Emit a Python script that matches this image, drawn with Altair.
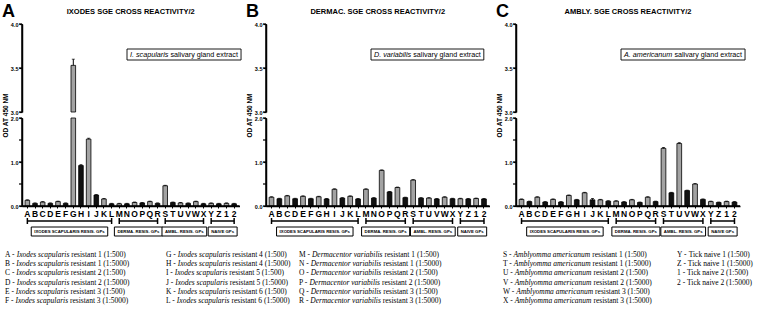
import altair as alt
import pandas as pd

# ---------------- data ----------------
categories = list("ABCDEFGHIJKLMNOPQRSTUVWX") + ["Y", "Z", "1", "2"]
dilutions = ["1:500", "1:5000"] * 14

ixodes_od = [0.13, 0.06, 0.09, 0.06, 0.10, 0.06, 3.53, 0.92, 1.52, 0.25, 0.16, 0.05,
             0.05, 0.05, 0.08, 0.07, 0.10, 0.06, 0.46, 0.08, 0.07, 0.06, 0.10, 0.05,
             0.06, 0.05, 0.06, 0.05]
ixodes_err = [0.01, 0.01, 0.01, 0.01, 0.01, 0.01, 0.07, 0.02, 0.02, 0.01, 0.01, 0.01,
              0.01, 0.01, 0.01, 0.01, 0.01, 0.01, 0.01, 0.01, 0.01, 0.01, 0.01, 0.01,
              0.01, 0.01, 0.01, 0.01]
dermac_od = [0.20, 0.165, 0.23, 0.165, 0.22, 0.165, 0.21, 0.16, 0.38, 0.18, 0.22, 0.16,
             0.38, 0.18, 0.81, 0.32, 0.42, 0.19, 0.59, 0.18, 0.18, 0.16, 0.20, 0.165,
             0.165, 0.16, 0.17, 0.16]
dermac_err = [0.01] * 28
ambly_od = [0.15, 0.10, 0.20, 0.09, 0.15, 0.09, 0.24, 0.14, 0.30, 0.14, 0.14, 0.11,
            0.11, 0.09, 0.14, 0.08, 0.20, 0.10, 1.31, 0.30, 1.42, 0.35, 0.50, 0.15,
            0.10, 0.08, 0.10, 0.09]
ambly_err = [0.01, 0.01, 0.01, 0.01, 0.01, 0.01, 0.01, 0.01, 0.01, 0.03, 0.01, 0.01,
             0.01, 0.01, 0.01, 0.01, 0.01, 0.01, 0.02, 0.01, 0.02, 0.01, 0.01, 0.01,
             0.01, 0.01, 0.01, 0.01]

panel_letters = ["A", "B", "C"]
panel_titles = ["IXODES SGE CROSS REACTIVITY/2", "DERMAC. SGE CROSS REACTIVITY/2",
                "AMBLY. SGE CROSS REACTIVITY/2"]
extract_italic = ["I. scapularis", "D. variabilis", "A. americanum"]
extract_rest = "salivary gland extract"

group_labels = ["IXODES SCAPULARIS RESIS. GPs", "DERMA. RESIS. GPs", "AMBL. RESIS. GPs", "NAIVE GPs"]
group_first = ["A", "M", "S", "Y"]
group_last = ["L", "R", "X", "2"]

top_ticks = [3.0, 3.5, 4.0]
bottom_ticks = [0.0, 0.5, 1.0, 1.5, 2.0]

legend_species = (["Ixodes scapularis"] * 12 + ["Dermacentor variabilis"] * 6 +
                  ["Amblyomma americanum"] * 6 + [""] * 4)
legend_suffix = ["resistant 1 (1:500)", "resistant 1 (1:5000)", "resistant 2 (1:500)",
                 "resistant 2 (1:5000)", "resistant 3 (1:500)", "resistant 3 (1:5000)",
                 "resistant 4 (1:500)", "resistant 4 (1:5000)", "resistant 5 (1:500)",
                 "resistant 5 (1:5000)", "resistant 6 (1:500)", "resistant 6 (1:5000)",
                 "resistant 1 (1:500)", "resistant 1 (1:5000)", "resistant 2 (1:500)",
                 "resistant 2 (1:5000)", "resistant 3 (1:500)", "resistant 3 (1:5000)",
                 "resistant 1 (1:500)", "resistant 1 (1:5000)", "resistant 2 (1:500)",
                 "resistant 2 (1:5000)", "resistant 3 (1:500)", "resistant 3 (1:5000)",
                 "Tick naive 1 (1:500)", "Tick naive 1 (1:5000)", "Tick naive 2 (1:500)",
                 "Tick naive 2 (1:5000)"]

# ---------------- style / layout ----------------
SANS = "Liberation Sans"
SERIF = "Liberation Serif"
PAT = "#a3a3a3"
BLK = "#111111"
PANEL_W = [217.5, 223.5, 224]
SEG_H = 88
PAD_IN, PAD_OUT = 0.4, 0.4
LEG_COL_X = [-17, 144, 277, 481, 655]
LEG_Y0, LEG_DY = 49, 9.2   # below bottom plot
LEG_FS = 7.5

TIMES = {' ': .25, '-': .333, 'A': .722, 'B': .667, 'C': .667, 'D': .722, 'E': .611, 'F': .556,
         'G': .722, 'H': .722, 'I': .333, 'J': .389, 'K': .722, 'L': .611, 'M': .889, 'N': .722,
         'O': .722, 'P': .556, 'Q': .722, 'R': .667, 'S': .556, 'T': .611, 'U': .722, 'V': .722,
         'W': .944, 'X': .722, 'Y': .722, 'Z': .611, '1': .5, '2': .5}
TIMES_I = {' ': .25, 'I': .333, 'D': .722, 'A': .611, 'a': .5, 'b': .5, 'c': .444, 'd': .5,
           'e': .444, 'i': .278, 'l': .278, 'm': .722, 'n': .5, 'o': .5, 'p': .5, 'r': .389,
           's': .389, 't': .278, 'u': .5, 'v': .444, 'x': .444, 'y': .444}
ARIAL = {' ': .278, '.': .278, 'I': .278, 'D': .722, 'A': .667, 's': .5, 'c': .5, 'a': .556,
         'p': .556, 'u': .556, 'l': .222, 'r': .333, 'i': .222, 'v': .5, 'y': .5, 'g': .556,
         'n': .556, 'd': .556, 'e': .556, 'x': .5, 't': .278, 'b': .556, 'm': .833}
ARIAL_B = {' ': .278, '.': .278, 'I': .278, 'X': .667, 'O': .778, 'D': .722, 'E': .667,
           'S': .667, 'C': .722, 'A': .722, 'P': .667, 'U': .722, 'L': .611, 'R': .722,
           'G': .778, 'M': .833, 'B': .722, 'N': .722, 'V': .667, 's': .556}


def tw(s, table, size):
    return sum(table.get(c, 0.55) for c in s) * size


one = pd.DataFrame({"k": [0]})


def legend_layers():
    cols = [0] * 6 + [1] * 6 + [2] * 6 + [3] * 6 + [4] * 4
    rows = list(range(6)) * 4 + list(range(4))
    recs = []
    for k, cat in enumerate(categories):
        x0 = LEG_COL_X[cols[k]]
        pre = f"{cat} - "
        w_pre = tw(pre, TIMES, LEG_FS)
        sp = legend_species[k]
        w_sp = tw(sp + " ", TIMES_I, LEG_FS) if sp else 0
        recs.append({"ypx": SEG_H + LEG_Y0 + rows[k] * LEG_DY, "pre": pre.strip(), "sp": sp,
                     "suf": legend_suffix[k], "x_pre": x0, "x_sp": x0 + w_pre,
                     "x_suf": x0 + w_pre + w_sp})
    ldf = pd.DataFrame(recs)
    lb = alt.Chart(ldf)
    ly = alt.Y("ypx:Q", scale=None)
    kw = dict(font=SERIF, fontSize=LEG_FS, align="left", baseline="middle", color="black")
    l1 = lb.mark_text(**kw).encode(x=alt.X("x_pre:Q", scale=None), y=ly, text="pre:N")
    l2 = lb.transform_filter("datum.sp != ''").mark_text(fontStyle="italic", **kw).encode(
        x=alt.X("x_sp:Q", scale=None), y=ly, text="sp:N")
    l3 = lb.mark_text(**kw).encode(x=alt.X("x_suf:Q", scale=None), y=ly, text="suf:N")
    return [l1, l2, l3]


def axis_line(ticks, yscale):
    """Explicit y-axis spine + ticks, drawn from the tick-value list."""
    tdf = pd.DataFrame({"v": ticks})
    spine = alt.Chart(one).mark_rule(color="black", strokeWidth=1.5).encode(
        x=alt.value(0), y=alt.value(0), y2=alt.value(SEG_H))
    tk = alt.Chart(tdf).mark_rule(color="black", strokeWidth=1.2).encode(
        x=alt.value(-3), x2=alt.value(0), y=alt.Y("v:Q", scale=yscale))
    return [spine, tk]


def panel(i, od, err):
    W = PANEL_W[i]
    step = W / (28 - PAD_IN + 2 * PAD_OUT)
    df = pd.DataFrame({"cat": categories, "od": od, "err": err, "dil": dilutions})
    df["hi"] = df["od"] + df["err"]
    xs = alt.Scale(domain=categories, paddingInner=PAD_IN, paddingOuter=PAD_OUT)
    col = alt.Color("dil:N", scale=alt.Scale(domain=["1:500", "1:5000"], range=[PAT, BLK]),
                    legend=None)

    # ----- top segment (3.0 - 4.0)
    ytop = alt.Scale(domain=[3, 4], clamp=True, nice=False, zero=False)
    base = alt.Chart(df)
    tbars = base.transform_filter("datum.od > 3").mark_bar(
        stroke="black", strokeWidth=0.8).encode(
        x=alt.X("cat:N", sort=categories, scale=xs, axis=None),
        y=alt.Y("od:Q", scale=ytop,
                axis=alt.Axis(values=top_ticks, title=None, format=".1f")),
        y2=alt.datum(3),
        color=col)
    terr = base.transform_filter("datum.od > 3").mark_rule(color="black", strokeWidth=1).encode(
        x=alt.X("cat:N", sort=categories, scale=xs),
        y=alt.Y("od:Q", scale=ytop), y2="hi:Q")
    tcap = base.transform_filter("datum.od > 3").mark_tick(
        color="black", thickness=1, size=3).encode(
        x=alt.X("cat:N", sort=categories, scale=xs),
        y=alt.Y("hi:Q", scale=ytop))
    letter = alt.Chart(one).mark_text(
        text=panel_letters[i], font=SANS, fontSize=18, fontWeight="bold",
        align="left", baseline="alphabetic", color="black").encode(
        x=alt.value(-20), y=alt.value(-7))
    title = alt.Chart(one).mark_text(
        text=panel_titles[i], font=SANS, fontSize=7.5, fontWeight="bold",
        align="center", baseline="alphabetic", color="black").encode(
        x=alt.value(W / 2), y=alt.value(-10))
    fs = 7.2
    bx0 = 105
    w_it = tw(extract_italic[i], ARIAL, fs)
    w_sp = tw(" ", ARIAL, fs)
    w_rest = tw(extract_rest, ARIAL, fs)
    box = alt.Chart(one).mark_rect(fill="white", stroke="black", strokeWidth=0.9).encode(
        x=alt.value(bx0), x2=alt.value(bx0 + w_it + w_sp + w_rest + 6),
        y=alt.value(25), y2=alt.value(36))
    t_it = alt.Chart(one).mark_text(
        text=extract_italic[i], font=SANS, fontSize=fs, fontStyle="italic",
        align="left", baseline="middle", color="black").encode(
        x=alt.value(bx0 + 3), y=alt.value(30.5))
    t_rest = alt.Chart(one).mark_text(
        text=extract_rest, font=SANS, fontSize=fs,
        align="left", baseline="middle", color="black").encode(
        x=alt.value(bx0 + 3 + w_it + w_sp), y=alt.value(30.5))
    top = alt.layer(tbars, terr, tcap, *axis_line(top_ticks, ytop),
                    letter, title, box, t_it, t_rest).properties(width=W, height=SEG_H)

    # ----- bottom segment (0 - 2.0)
    ybot = alt.Scale(domain=[0, 2], clamp=True, nice=False)
    bbars = base.mark_bar(stroke="black", strokeWidth=0.8).encode(
        x=alt.X("cat:N", sort=categories, scale=xs,
                axis=alt.Axis(title=None, labelAngle=0)),
        y=alt.Y("od:Q", scale=ybot,
                axis=alt.Axis(values=bottom_ticks, title="OD AT 450 NM", format=".1f",
                              titleFont=SANS, titleFontSize=6.5, titleFontWeight="bold",
                              titleColor="black", titleAngle=270, titleX=-17, titleY=-3,
                              titleAlign="center", titleBaseline="middle")),
        color=col)
    berr = base.transform_filter("datum.hi <= 2").mark_rule(color="black", strokeWidth=1).encode(
        x=alt.X("cat:N", sort=categories, scale=xs),
        y=alt.Y("od:Q", scale=ybot), y2="hi:Q")
    bcap = base.transform_filter("datum.hi <= 2").mark_tick(
        color="black", thickness=1, size=3).encode(
        x=alt.X("cat:N", sort=categories, scale=xs),
        y=alt.Y("hi:Q", scale=ybot))
    xspine = alt.Chart(one).mark_rule(color="black", strokeWidth=1.5).encode(
        x=alt.value(0), x2=alt.value(W), y=alt.value(SEG_H))

    gdf = pd.DataFrame({"first": group_first, "last": group_last, "label": group_labels})
    gbase = alt.Chart(gdf)
    brk = gbase.mark_rule(color="black", strokeWidth=1.5).encode(
        x=alt.X("first:N", scale=xs), x2="last:N", y=alt.value(SEG_H + 15))
    brk_l = gbase.mark_rule(color="black", strokeWidth=1.5).encode(
        x=alt.X("first:N", scale=xs),
        y=alt.value(SEG_H + 12), y2=alt.value(SEG_H + 18))
    brk_r = gbase.mark_rule(color="black", strokeWidth=1.5).encode(
        x=alt.X("last:N", scale=xs),
        y=alt.value(SEG_H + 12), y2=alt.value(SEG_H + 18))
    gfs = 4.3
    extra = []
    for g in range(len(group_labels)):
        i0 = categories.index(group_first[g])
        i1 = categories.index(group_last[g])
        cx = step * (PAD_OUT + (i0 + i1) / 2 + (1 - PAD_IN) / 2)
        bw = tw(group_labels[g], ARIAL_B, gfs) + 6
        sub = alt.Chart(gdf.iloc[[g]])
        extra.append(sub.mark_rect(fill="white", stroke="black", strokeWidth=1).encode(
            x=alt.value(cx - bw / 2), x2=alt.value(cx + bw / 2),
            y=alt.value(SEG_H + 21), y2=alt.value(SEG_H + 30)))
        extra.append(sub.mark_text(
            font=SANS, fontSize=gfs, fontWeight="bold", color="black", baseline="middle",
            align="center").encode(
            x=alt.value(cx), text="label:N", y=alt.value(SEG_H + 25.5)))
    layers = [bbars, berr, bcap, xspine, *axis_line(bottom_ticks, ybot),
              brk, brk_l, brk_r] + extra
    if i == 0:
        layers += legend_layers()
    bottom = alt.layer(*layers).properties(width=W, height=SEG_H)
    return top, bottom


tA, bA = panel(0, ixodes_od, ixodes_err)
tB, bB = panel(1, dermac_od, dermac_err)
tC, bC = panel(2, ambly_od, ambly_err)

chart = alt.concat(tA, tB, tC, bA, bB, bC, columns=3, bounds="flush", align="each",
                   spacing=alt.RowColnumber(row=6, column=26)).properties(
    padding={"left": 1, "top": 3, "right": 2, "bottom": 2}
).configure_view(stroke=None).configure_axis(
    labelFont=SANS, labelFontSize=5.5, labelFontWeight="bold", labelColor="black",
    domainColor="black", domainWidth=1.5, tickColor="black", tickWidth=1.2, tickSize=3,
    labelPadding=1, grid=False, zindex=1
).configure_axisX(labelFontSize=8.5, tickSize=2, tickWidth=1)

chart.save("out.html", embed_options={"renderer": "svg", "actions": False})
